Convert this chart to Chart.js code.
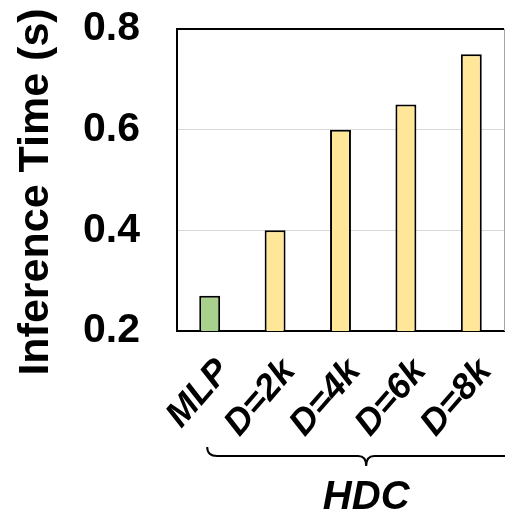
<!DOCTYPE html>
<html>
<head>
<meta charset="utf-8">
<script src="https://cdn.jsdelivr.net/npm/chart.js@4/dist/chart.umd.min.js"></script>
<style>
  html, body { margin: 0; padding: 0; background: #fff; }
  #wrap { width: 505px; height: 515px; }
</style>
</head>
<body>
<div id="wrap"><canvas id="chart"></canvas></div>
<script>
// values
let categories = ['MLP', 'D=2k', 'D=4k', 'D=6k', 'D=8k'];
let inferenceTime = [0.27, 0.40, 0.60, 0.65, 0.75];
let yTicks = [0.2, 0.4, 0.6, 0.8];
let yTitle = 'Inference Time (s)';
let groupName = 'HDC';
let groupMembers = ['D=2k', 'D=4k', 'D=6k', 'D=8k'];

let barColors = categories.map(c => groupMembers.includes(c) ? '#ffe699' : '#a9d18e');

const FONT = '"Liberation Sans", Arial, sans-serif';

// frame lines, y title, and the brace under the HDC group
const frameAndBrace = {
    id: 'frameAndBrace',
    afterDraw(chart) {
        const ctx = chart.ctx;
        const a = chart.chartArea;
        const x = chart.scales.x;
        ctx.save();
        ctx.strokeStyle = '#000';
        ctx.lineWidth = 2;
        ctx.beginPath();
        ctx.moveTo(a.left, a.top);
        ctx.lineTo(a.right, a.top);
        ctx.stroke();
        ctx.strokeStyle = '#a6a6a6';
        ctx.lineWidth = 1;
        ctx.beginPath();
        ctx.moveTo(a.right + 0.5, a.top);
        ctx.lineTo(a.right + 0.5, a.bottom);
        ctx.stroke();

        // y axis title
        ctx.fillStyle = '#000';
        ctx.font = 'bold 43px ' + FONT;
        ctx.textAlign = 'center';
        ctx.textBaseline = 'alphabetic';
        ctx.save();
        ctx.translate(48, (a.top + a.bottom) / 2 + 12);
        ctx.rotate(-Math.PI / 2);
        ctx.fillText(yTitle, 0, 0);
        ctx.restore();

        // brace
        let idx = groupMembers.map(m => categories.indexOf(m));
        let p1 = x.getPixelForValue(idx[0]);
        let p2 = x.getPixelForValue(idx[idx.length - 1]);
        let xc = (p1 + p2) / 2 - 7;
        let x1 = xc - 159, x2 = xc + 159;
        let top = 447, mid = 456, tip = 466;
        ctx.strokeStyle = '#000';
        ctx.lineWidth = 2;
        ctx.beginPath();
        ctx.moveTo(x1, top);
        ctx.quadraticCurveTo(x1, mid, x1 + 10, mid);
        ctx.lineTo(xc - 8, mid);
        ctx.quadraticCurveTo(xc, mid, xc, tip);
        ctx.quadraticCurveTo(xc, mid, xc + 8, mid);
        ctx.lineTo(x2 - 10, mid);
        ctx.quadraticCurveTo(x2, mid, x2, top);
        ctx.stroke();

        ctx.font = 'italic bold 40px ' + FONT;
        ctx.fillText(groupName, xc, 509);
        ctx.restore();
    }
};

var ctx = document.getElementById('chart').getContext('2d');
var timeChart = new Chart(ctx, {
    type: 'bar',
    data: {
        labels: categories,
        datasets: [{
            data: inferenceTime,
            backgroundColor: barColors,
            borderColor: '#000',
            borderWidth: 2,
            barPercentage: 0.32,
            categoryPercentage: 1
        }]
    },
    options: {
        responsive: true,
        maintainAspectRatio: false,
        animation: false,
        layout: { padding: { top: 29, right: 1, left: 0, bottom: 0 } },
        plugins: {
            legend: { display: false },
            tooltip: { enabled: false }
        },
        scales: {
            x: {
                grid: { display: false, drawTicks: false },
                border: { color: '#000', width: 2 },
                ticks: {
                    color: '#000',
                    maxRotation: 49,
                    minRotation: 49,
                    padding: 20,
                    labelOffset: 14,
                    font: { family: FONT, size: 36, weight: 'bold', style: 'italic' }
                },
                afterFit(scale) {
                    scale.height = 184;
                    scale.paddingLeft = 0;
                    scale.paddingRight = 0;
                }
            },
            y: {
                min: 0.2,
                max: 0.8,
                afterBuildTicks(scale) { scale.ticks = yTicks.map(v => ({ value: v })); },
                grid: { color: '#d9d9d9', lineWidth: 1, drawTicks: false },
                border: { color: '#000', width: 2 },
                ticks: {
                    color: '#000',
                    padding: 37,
                    font: { family: FONT, size: 41, weight: 'bold' },
                    callback: v => v.toFixed(1)
                },
                afterFit(scale) {
                    scale.width = 177;
                    scale.paddingTop = 0;
                    scale.paddingBottom = 0;
                }
            }
        }
    },
    plugins: [frameAndBrace]
});
</script>
</body>
</html>
